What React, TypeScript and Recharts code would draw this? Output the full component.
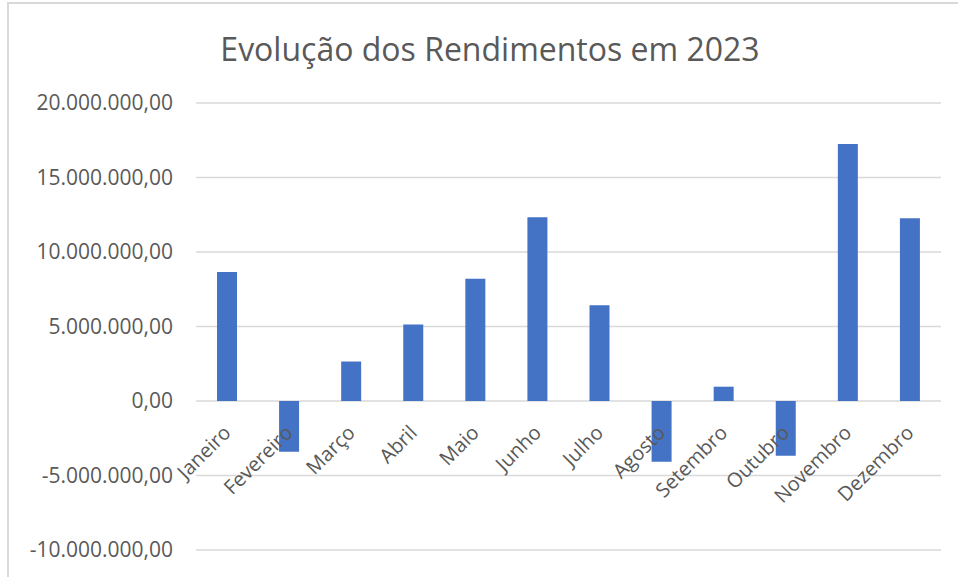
import { BarChart, Bar, XAxis, YAxis, CartesianGrid, LabelList } from "recharts";

const meses = [
  "Janeiro",
  "Fevereiro",
  "Março",
  "Abril",
  "Maio",
  "Junho",
  "Julho",
  "Agosto",
  "Setembro",
  "Outubro",
  "Novembro",
  "Dezembro",
];

const rendimentos = [
  8650000, -3400000, 2650000, 5130000, 8210000, 12340000, 6430000, -4080000,
  960000, -3680000, 17240000, 12270000,
];

const yTicks = [-10000000, -5000000, 0, 5000000, 10000000, 15000000, 20000000];

const data = meses.map((mes, i) => ({ mes, valor: rendimentos[i] }));

const GREY = "#595959";
const FONT = "'Open Sans', sans-serif";

// pt-BR number format: 20.000.000,00
function fmt(v: number) {
  const neg = v < 0;
  const int = Math.abs(Math.round(v))
    .toString()
    .replace(/\B(?=(\d{3})+(?!\d))/g, ".");
  return (neg ? "-" : "") + int + ",00";
}

// month label drawn at the zero line, rotated like Excel does
function MonthLabel(props: any) {
  const { x, y, width, height, index } = props;
  const h = Number(height);
  const v = rendimentos[index];
  const zeroY = v >= 0 ? Math.max(y, y + h) : Math.min(y, y + h);
  const cx = Number(x) + Number(width) / 2 + 5;
  const cy = zeroY + 33;
  return (
    <text
      x={cx}
      y={cy}
      transform={`rotate(-45 ${cx} ${cy})`}
      textAnchor="end"
      fill={GREY}
      fontSize={20}
      fontFamily={FONT}
    >
      {meses[index]}
    </text>
  );
}

export default function App() {
  return (
    <div
      style={{
        position: "fixed",
        left: 0,
        top: 0,
        width: 958,
        height: 577,
        overflow: "hidden",
        background: "#fff",
      }}
    >
      <div
        style={{
          position: "absolute",
          left: 7,
          top: 2,
          width: 1000,
          height: 700,
          border: "2px solid #d9d9d9",
        }}
      />
      <div style={{ position: "absolute", left: 0, top: 0 }}>
        <BarChart
          width={958}
          height={577}
          data={data}
          margin={{ top: 103, right: 17, bottom: 27, left: 0 }}
        >
          <text
            x={490}
            y={61}
            textAnchor="middle"
            fill={GREY}
            fontSize={32}
            fontFamily={FONT}
          >
            Evolução dos Rendimentos em 2023
          </text>
          <CartesianGrid vertical={false} stroke="#d9d9d9" strokeWidth={1.5} />
          <XAxis dataKey="mes" hide />
          <YAxis
            width={196}
            domain={[-10000000, 20000000]}
            ticks={yTicks}
            tickFormatter={fmt}
            axisLine={false}
            tickLine={false}
            tickSize={0}
            tickMargin={23}
            tick={{ fill: GREY, fontSize: 21, fontFamily: FONT }}
          />
          <Bar dataKey="valor" fill="#4472C4" barSize={20} isAnimationActive={false}>
            <LabelList dataKey="mes" content={MonthLabel} />
          </Bar>
        </BarChart>
      </div>
    </div>
  );
}
